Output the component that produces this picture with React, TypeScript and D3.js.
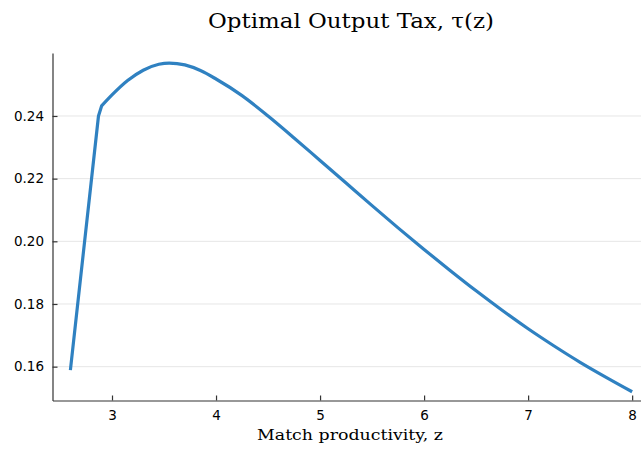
import { useEffect, useRef } from "react";
import * as d3 from "d3";

// productivity grid and optimal tax values
const zValues = [
  2.6, 2.87, 2.9, 3.0, 3.15, 3.3, 3.45, 3.55, 3.7, 3.85, 4.0, 4.25, 4.5, 4.75,
  5.0, 5.25, 5.5, 5.75, 6.0, 6.25, 6.5, 6.75, 7.0, 7.25, 7.5, 7.75, 8.0,
];
const tauValues = [
  0.1589, 0.24, 0.2432, 0.2467, 0.2513, 0.2546, 0.2565, 0.2569, 0.2563,
  0.2545, 0.2518, 0.2465, 0.24, 0.233, 0.2258, 0.2186, 0.2114, 0.2043,
  0.1974, 0.1907, 0.1842, 0.178, 0.1721, 0.1666, 0.1614, 0.1566, 0.152,
];
const xTicks = [3, 4, 5, 6, 7, 8];
const yTicks = [0.16, 0.18, 0.2, 0.22, 0.24];
// the first points form the steep straight rise before the kink
const kinkIndex = 2;

export default function App() {
  const svgRef = useRef<SVGSVGElement>(null);

  useEffect(() => {
    if (!svgRef.current) return;
    const W = 641;
    const H = 453;
    const margin = { top: 53, right: -8, bottom: 52.5, left: 52.5 };
    const width = W - margin.left - margin.right;
    const height = H - margin.top - margin.bottom;

    const svg = d3.select(svgRef.current);
    svg.selectAll("*").remove();

    const x = d3.scaleLinear().domain([2.428, 8.162]).range([0, width]);
    const y = d3.scaleLinear().domain([0.1492, 0.2601]).range([height, 0]);

    const g = svg
      .append("g")
      .attr("transform", `translate(${margin.left},${margin.top})`);

    // horizontal grid only
    g.append("g")
      .selectAll("line")
      .data(yTicks)
      .join("line")
      .attr("x1", 0)
      .attr("x2", width)
      .attr("y1", (d) => y(d))
      .attr("y2", (d) => y(d))
      .attr("stroke", "#000")
      .attr("stroke-opacity", 0.1)
      .attr("stroke-width", 1);

    const pts = zValues.map((z, i) => [z, tauValues[i]] as [number, number]);
    const straight = d3
      .line<[number, number]>()
      .x((d) => x(d[0]))
      .y((d) => y(d[1]));
    const smooth = d3
      .line<[number, number]>()
      .x((d) => x(d[0]))
      .y((d) => y(d[1]))
      .curve(d3.curveMonotoneX);

    const d =
      (straight(pts.slice(0, kinkIndex + 1)) as string) +
      (smooth(pts.slice(kinkIndex)) as string).replace(/^M[^A-Za-z]*/, "");

    g.append("path")
      .attr("d", d)
      .attr("fill", "none")
      .attr("stroke", "#2f81c1")
      .attr("stroke-width", 3.2)
      .attr("stroke-linejoin", "round");

    // axes
    const xAxis = d3
      .axisBottom(x)
      .tickValues(xTicks)
      .tickFormat(d3.format("d"))
      .tickSizeInner(-5)
      .tickSizeOuter(0)
      .tickPadding(9.5);
    const yAxis = d3
      .axisLeft(y)
      .tickValues(yTicks)
      .tickFormat(d3.format(".2f"))
      .tickSizeInner(-5)
      .tickSizeOuter(0)
      .tickPadding(8.5);

    const gx = g
      .append("g")
      .attr("transform", `translate(0,${height})`)
      .call(xAxis);
    const gy = g.append("g").call(yAxis);

    [gx, gy].forEach((a) => {
      a.attr("font-size", null).attr("font-family", null);
      a.select(".domain").attr("stroke", "#333").attr("stroke-width", 1.2);
      a.selectAll(".tick line").attr("stroke", "#333").attr("stroke-width", 1.2);
      a.selectAll(".tick text")
        .attr("fill", "#000")
        .style("font-family", "'DejaVu Sans', sans-serif")
        .style("font-size", "13.5px");
    });

    // title
    svg
      .append("text")
      .attr("x", 351)
      .attr("y", 28)
      .attr("text-anchor", "middle")
      .attr("textLength", 286)
      .attr("lengthAdjust", "spacingAndGlyphs")
      .style("font-family", "'DejaVu Serif', serif")
      .style("font-size", "20px")
      .attr("fill", "#000")
      .text("Optimal Output Tax, τ(z)");

    // x label
    svg
      .append("text")
      .attr("x", 350)
      .attr("y", 440)
      .attr("text-anchor", "middle")
      .attr("textLength", 186)
      .attr("lengthAdjust", "spacingAndGlyphs")
      .style("font-family", "'DejaVu Serif', serif")
      .style("font-size", "15.5px")
      .attr("fill", "#000")
      .text("Match productivity, z");
  }, []);

  return (
    <svg
      ref={svgRef}
      width={641}
      height={453}
      style={{ position: "absolute", left: 0, top: 0, background: "#fff" }}
    />
  );
}
